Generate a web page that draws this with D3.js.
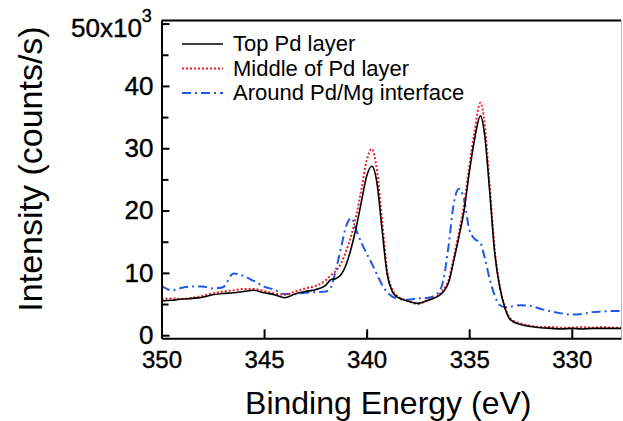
<!DOCTYPE html>
<html>
<head>
<meta charset="utf-8">
<script src="https://cdn.jsdelivr.net/npm/d3@7"></script>
<style>
  body { margin: 0; background: #fff; }
  svg { display: block; font-family: Arial, "Liberation Sans", sans-serif; }
</style>
</head>
<body>
<svg id="chart" width="623" height="421"></svg>
<script>
// binding energy grid (eV)
var energy = [350, 349.5, 349, 348.5, 348, 347.5, 347, 346.5, 346, 345.5, 345, 344.5, 344, 343.5, 343, 342.5, 342,
  341.75, 341.5, 341.25, 341, 340.75, 340.5, 340.25, 340, 339.75, 339.5, 339.25, 339, 338.75, 338.5, 338, 337.5, 337,
  336.5, 336.25, 336, 335.75, 335.5, 335.25, 335, 334.75, 334.45, 334.25, 334, 333.75, 333.5, 333.25, 333, 332.5, 332,
  331.5, 331, 330.5, 330, 329.5, 329, 328.5, 328, 327.6];

// intensity, x10^3 counts/s
var topPd = [5.5, 5.6, 5.8, 5.9, 6.1, 6.5, 6.7, 6.8, 7.0, 7.2, 6.8, 6.5, 6.0, 6.6, 7.0, 7.3, 8.0,
  8.9, 9.1, 9.7, 11.3, 14.0, 17.4, 21.5, 25.5, 27.1, 24.5, 17.0, 9.8, 7.0, 6.1, 5.5, 5.1, 5.6,
  6.3, 7.0, 8.5, 12.0, 15.8, 20.0, 26.0, 31.2, 35.2, 32.2, 23.0, 13.0, 7.5, 4.3, 2.5, 1.7, 1.4,
  1.2, 1.1, 1.0, 1.1, 1.0, 1.1, 1.1, 1.1, 1.1];

var middlePd = [5.8, 5.9, 5.8, 6.0, 6.3, 6.7, 7.0, 7.2, 7.4, 7.4, 7.1, 6.7, 6.5, 7.0, 7.5, 7.9, 8.8,
  9.6, 10.3, 11.5, 13.5, 16.0, 19.3, 23.5, 28.0, 29.9, 26.5, 18.5, 10.5, 7.3, 6.3, 5.5, 5.0, 5.7,
  6.4, 7.3, 8.9, 12.5, 16.5, 21.0, 27.0, 32.5, 37.3, 34.0, 24.0, 13.5, 7.8, 4.5, 2.7, 1.9, 1.5,
  1.3, 1.3, 1.2, 1.2, 1.3, 1.2, 1.3, 1.2, 1.2];

var interfacePdMg = [7.9, 7.2, 7.6, 7.8, 7.8, 7.5, 7.7, 9.9, 9.5, 8.7, 7.8, 7.3, 6.6, 6.6, 6.8, 6.9, 7.0,
  7.6, 10.5, 14.0, 17.5, 18.8, 16.8, 14.8, 13.1, 11.5, 9.8, 8.1, 6.9, 6.2, 5.9, 5.7, 5.9, 6.0,
  6.8, 9.0, 14.5, 21.2, 23.5, 21.8, 17.0, 15.5, 14.8, 12.5, 9.0, 6.3, 4.8, 4.5, 4.6, 4.8, 4.7,
  4.2, 3.8, 3.5, 3.3, 3.4, 3.7, 3.8, 3.9, 3.9];

var seriesNames = ['Top Pd layer', 'Middle of Pd layer', 'Around Pd/Mg interface'];
var xTicks = [350, 345, 340, 335, 330];
var yTicks = [0, 10, 20, 30, 40, 50];
var yMinor = [5, 15, 25, 35, 45];

var svg = d3.select('#chart');
var plotL = 161.5, plotR = 621, plotT = 20.5, plotB = 338.3;

var x = d3.scaleLinear().domain([350, 327.6]).range([plotL, plotR]);
var y = d3.scaleLinear().domain([-0.5, 50.5]).range([plotB, plotT]);

var series = [
  { name: seriesNames[0], values: topPd, color: '#000', dash: null, width: 1.6 },
  { name: seriesNames[1], values: middlePd, color: '#ee1c25', dash: '2,2', width: 2 },
  { name: seriesNames[2], values: interfacePdMg, color: '#1e5ae6', dash: '9,4,2,4', width: 2 }
];

svg.append('clipPath').attr('id', 'plotclip')
  .append('rect').attr('x', plotL).attr('y', plotT).attr('width', plotR - plotL).attr('height', plotB - plotT);

var line = d3.line()
  .x(function (d, i) { return x(energy[i]); })
  .y(function (d) { return y(d); })
  .curve(d3.curveMonotoneX);

var plotG = svg.append('g').attr('clip-path', 'url(#plotclip)');
// blue first, black last
[2, 1, 0].forEach(function (k) {
  var s = series[k];
  plotG.append('path')
    .datum(s.values)
    .attr('d', line)
    .attr('fill', 'none')
    .attr('stroke', s.color)
    .attr('stroke-width', s.width)
    .attr('stroke-dasharray', s.dash)
    .attr('stroke-linejoin', 'round');
});

// frame top / right
svg.append('line').attr('x1', plotL).attr('x2', plotR).attr('y1', plotT).attr('y2', plotT)
  .attr('stroke', '#000').attr('stroke-width', 2);
svg.append('line').attr('x1', plotR + 0.5).attr('x2', plotR + 0.5).attr('y1', plotT).attr('y2', plotB)
  .attr('stroke', '#bbb').attr('stroke-width', 1);

// axes
var xAxisG = svg.append('g')
  .attr('transform', 'translate(0,' + plotB + ')')
  .call(d3.axisBottom(x).tickValues(xTicks).tickSize(-9).tickSizeOuter(0).tickPadding(13).tickFormat(d3.format('d')));

var yAxisG = svg.append('g')
  .attr('transform', 'translate(' + plotL + ',0)')
  .call(d3.axisLeft(y).tickValues(yTicks).tickSize(-8).tickSizeOuter(0).tickPadding(8)
    .tickFormat(function (d) { return d === 50 ? '' : d; }));

var yMinorG = svg.append('g')
  .attr('transform', 'translate(' + plotL + ',0)')
  .call(d3.axisLeft(y).tickValues(yMinor).tickSize(-7).tickSizeOuter(0).tickFormat(''));
yMinorG.select('.domain').remove();

[xAxisG, yAxisG, yMinorG].forEach(function (g) {
  g.selectAll('path, line').attr('stroke', '#000').attr('stroke-width', 2);
  g.selectAll('text').attr('fill', '#000')
    .attr('stroke', '#000').attr('stroke-width', 0.4)
    .style('font-family', 'Arial, "Liberation Sans", sans-serif');
});
xAxisG.selectAll('text').style('font-size', '24px');
yAxisG.selectAll('text').style('font-size', '26px');

// 50x10^3 label
var expLabel = svg.append('text')
  .attr('x', 71).attr('y', 37)
  .attr('stroke', '#000').attr('stroke-width', 0.4)
  .style('font-size', '26px').attr('fill', '#000');
expLabel.append('tspan').text('50x10');
expLabel.append('tspan').attr('dy', -15).style('font-size', '18px').text('3');

// axis titles
svg.append('text')
  .attr('x', (plotL + plotR) / 2 - 3).attr('y', 414)
  .attr('text-anchor', 'middle')
  .style('font-size', '32px')
  .text('Binding Energy (eV)');

svg.append('text')
  .attr('transform', 'translate(42,169) rotate(-90)')
  .attr('text-anchor', 'middle')
  .style('font-size', '34px')
  .text('Intensity (counts/s)');

// legend
var legendG = svg.append('g');
series.forEach(function (s, i) {
  var yy = 44 + i * 24.5;
  legendG.append('line')
    .attr('x1', 182).attr('x2', 223).attr('y1', yy).attr('y2', yy)
    .attr('stroke', s.color).attr('stroke-width', s.width)
    .attr('stroke-dasharray', s.dash);
  legendG.append('text')
    .attr('x', 233).attr('y', yy + 7)
    .style('font-size', '22px')
    .text(s.name);
});
</script>
</body>
</html>
